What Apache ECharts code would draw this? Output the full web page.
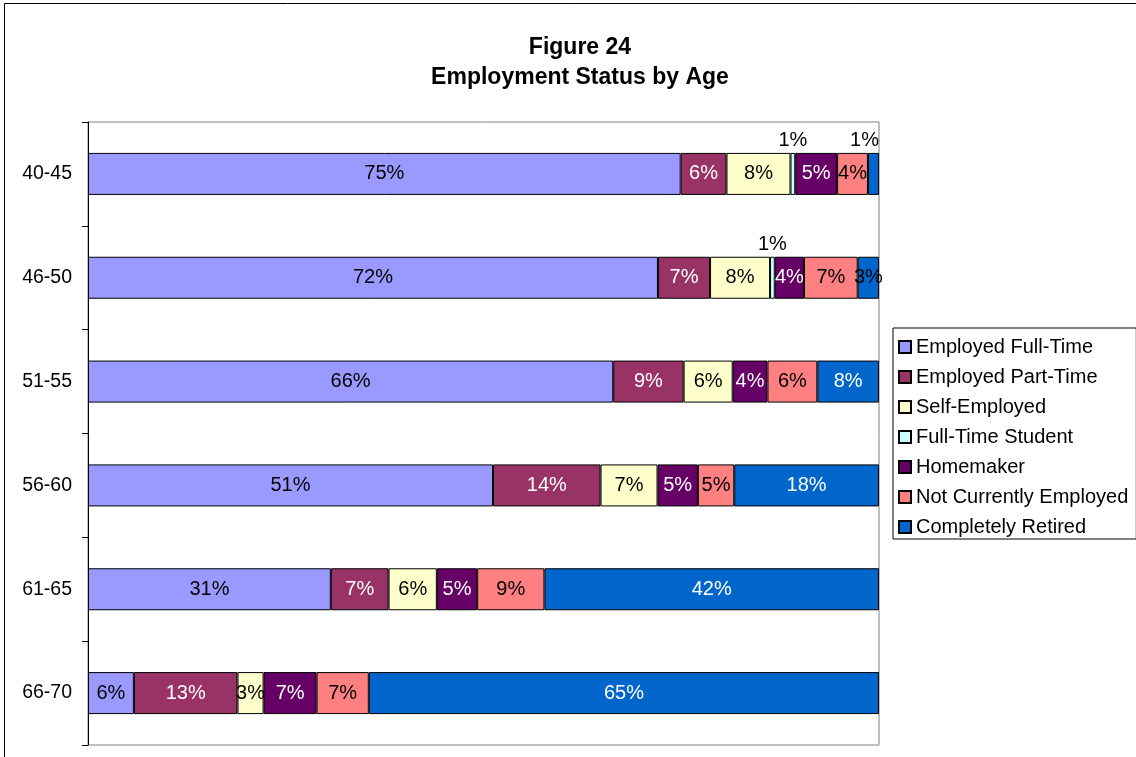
<!DOCTYPE html>
<html>
<head>
<meta charset="utf-8">
<script src="https://cdn.jsdelivr.net/npm/echarts@6/dist/echarts.min.js"></script>
<style>
  html, body { margin: 0; padding: 0; background: #fff; }
  #chart { width: 1136px; height: 757px; }
</style>
</head>
<body>
<div id="chart"></div>
<script>
// age groups, top to bottom
const categories = ['40-45', '46-50', '51-55', '56-60', '61-65', '66-70'];

// share of each group, in percent
const fullTime     = [75.0, 72.2, 66.4, 51.2, 30.7, 5.8];
const partTime     = [5.8, 6.6, 8.9, 13.6, 7.3, 13.1];
const selfEmployed = [8.1, 7.6, 6.2, 7.2, 6.1, 3.3];
const student      = [0.6, 0.6, 0, 0, 0, 0];
const homemaker    = [5.3, 3.7, 4.4, 5.1, 5.1, 6.7];
const notEmployed  = [3.9, 6.8, 6.3, 4.6, 8.5, 6.6];
const retired      = [1.4, 2.7, 7.8, 18.3, 42.3, 64.5];

const seriesNames = ['Employed Full-Time', 'Employed Part-Time', 'Self-Employed',
  'Full-Time Student', 'Homemaker', 'Not Currently Employed', 'Completely Retired'];
const seriesValues = [fullTime, partTime, selfEmployed, student, homemaker, notEmployed, retired];
const colors = ['#9999FF', '#993366', '#FFFFCC', '#CCFFFF', '#660066', '#FF8080', '#0066CC'];
const labelColors = ['#000', '#fff', '#000', '#000', '#fff', '#000', '#fff'];

const FONT = '"Liberation Sans", Arial, sans-serif';

// 100% stacked: each row scaled by its own total
const rowTotals = categories.map((c, i) => seriesValues.reduce((s, arr) => s + arr[i], 0));

const series = seriesNames.map((name, si) => ({
  name: name,
  type: 'bar',
  stack: 'all',
  barWidth: 42,
  itemStyle: { color: colors[si], borderColor: '#000', borderWidth: 1 },
  data: seriesValues[si].map((v, i) => {
    if (!v) return '-';
    const small = v < 2;
    // last segment's small label is pulled back inside the plot edge
    const lastSeg = si === seriesNames.length - 1;
    return {
      value: v / rowTotals[i] * 100,
      label: {
        show: true,
        position: small ? 'top' : 'inside',
        distance: 2,
        offset: small && lastSeg ? [-9, 0] : [0, 0],
        color: v < 3 ? '#000' : labelColors[si],
        fontSize: 20,
        fontFamily: FONT,
        formatter: Math.round(v) + '%'
      }
    };
  })
}));

const chart = echarts.init(document.getElementById('chart'));
chart.setOption({
  animation: false,
  backgroundColor: '#fff',
  title: {
    text: 'Figure 24\nEmployment Status by Age',
    left: 575,
    top: 28,
    textAlign: 'center',
    textStyle: { fontFamily: FONT, fontSize: 23, fontWeight: 'bold', color: '#000', lineHeight: 30 }
  },
  graphic: [{
    type: 'rect',
    shape: { x: 4.5, y: 3.5, width: 1200, height: 800 },
    style: { fill: 'none', stroke: '#000', lineWidth: 1 },
    silent: true
  }],
  legend: {
    orient: 'vertical',
    left: 893,
    top: 328,
    padding: [9, 8, 2, 5],
    itemGap: 10,
    itemWidth: 12,
    itemHeight: 12,
    icon: 'rect',
    borderColor: '#000',
    borderWidth: 1,
    backgroundColor: '#fff',
    textStyle: { fontFamily: FONT, fontSize: 20, color: '#000', lineHeight: 20 },
    data: seriesNames
  },
  grid: {
    left: 88,
    right: 257,
    top: 122,
    bottom: 12,
    show: true,
    borderColor: '#808080',
    borderWidth: 1,
    containLabel: false
  },
  xAxis: {
    type: 'value',
    min: 0,
    max: 100,
    show: false
  },
  yAxis: {
    type: 'category',
    inverse: true,
    data: categories,
    axisLine: { show: true, lineStyle: { color: '#000', width: 1 } },
    axisTick: { show: true, length: 6, lineStyle: { color: '#000' } },
    axisLabel: { fontFamily: FONT, fontSize: 19.5, color: '#000', margin: 16 },
    splitLine: { show: false }
  },
  series: series
});
</script>
</body>
</html>
